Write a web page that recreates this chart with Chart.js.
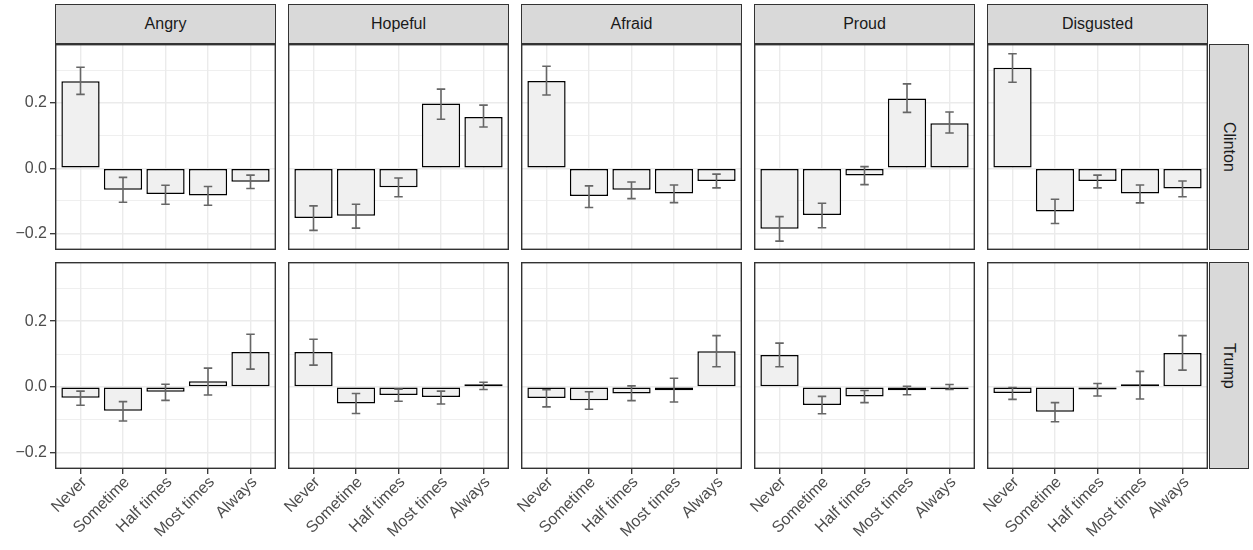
<!DOCTYPE html>
<html lang="en">
<head>
<meta charset="UTF-8">
<title>Emotions by candidate</title>
<script src="https://cdn.jsdelivr.net/npm/chart.js@4.4.1/dist/chart.umd.min.js"></script>
<style>
    body {
        margin: 0;
        background: #fff;
        font-family: 'Liberation Sans', Arial, sans-serif;
    }
    #wrap {
        position: relative;
        width: 1253px;
        height: 550px;
        overflow: hidden;
    }
    canvas {
        position: absolute;
    }
    .strip {
        position: absolute;
        box-sizing: border-box;
        background: #d9d9d9;
        border: 1.5px solid #333;
        color: #1a1a1a;
        font-size: 16px;
        display: flex;
        align-items: center;
        justify-content: center;
    }
    .strip.side {
        writing-mode: vertical-rl;
    }
</style>
</head>
<body>
<div id="wrap"></div>
<script>
    const categories = ['Never', 'Sometime', 'Half times', 'Most times', 'Always'];
    const emotions = ['Angry', 'Hopeful', 'Afraid', 'Proud', 'Disgusted'];
    const candidates = ['Clinton', 'Trump'];

    // one row per emotion, one value per category
    const clintonMean = [
        [0.266, -0.066, -0.079, -0.083, -0.041],
        [-0.152, -0.145, -0.058, 0.198, 0.157],
        [0.267, -0.085, -0.066, -0.077, -0.039],
        [-0.185, -0.143, -0.022, 0.213, 0.138],
        [0.307, -0.132, -0.039, -0.077, -0.062]
    ];
    const clintonLower = [
        [0.226, -0.104, -0.110, -0.113, -0.062],
        [-0.190, -0.183, -0.087, 0.150, 0.126],
        [0.224, -0.120, -0.093, -0.105, -0.060],
        [-0.223, -0.182, -0.050, 0.171, 0.108],
        [0.263, -0.169, -0.060, -0.106, -0.087]
    ];
    const clintonUpper = [
        [0.309, -0.028, -0.052, -0.056, -0.021],
        [-0.115, -0.110, -0.030, 0.242, 0.193],
        [0.312, -0.054, -0.042, -0.051, -0.018],
        [-0.148, -0.107, 0.005, 0.258, 0.172],
        [0.350, -0.095, -0.021, -0.051, -0.039]
    ];
    const trumpMean = [
        [-0.033, -0.073, -0.015, 0.017, 0.106],
        [0.106, -0.051, -0.025, -0.031, 0.003],
        [-0.034, -0.041, -0.020, -0.010, 0.108],
        [0.097, -0.055, -0.029, -0.010, -0.001],
        [-0.019, -0.076, -0.008, 0.003, 0.103]
    ];
    const trumpLower = [
        [-0.056, -0.104, -0.041, -0.025, 0.054],
        [0.066, -0.081, -0.044, -0.052, -0.008],
        [-0.061, -0.068, -0.042, -0.046, 0.061],
        [0.061, -0.082, -0.048, -0.024, -0.008],
        [-0.038, -0.106, -0.028, -0.037, 0.051]
    ];
    const trumpUpper = [
        [-0.013, -0.045, 0.008, 0.057, 0.160],
        [0.145, -0.020, -0.007, -0.013, 0.014],
        [-0.009, -0.015, 0.003, 0.026, 0.156],
        [0.133, -0.029, -0.011, 0.002, 0.007],
        [-0.002, -0.048, 0.010, 0.047, 0.156]
    ];

    const yMajor = [-0.2, 0.0, 0.2];
    const yMinor = [-0.1, 0.1, 0.3];
    const yTickLabels = ['\u22120.2', '0.0', '0.2'];

    Chart.defaults.font.family = "'Liberation Sans', Arial, sans-serif";

    const wrap = document.getElementById('wrap');
    const panelLeft = 55, panelW = 221, gap = 12;
    const rowTop = [44, 262], panelH = [206, 207];
    const yAxisW = 55, xAxisH = 81;

    const isMajor = v => yMajor.some(m => Math.abs(m - v) < 1e-9);

    // error bars and panel frame
    const panelExtras = {
        id: 'panelExtras',
        afterDatasetsDraw(chart) {
            const { ctx, scales: { x, y } } = chart;
            const ds = chart.data.datasets[0];
            ctx.save();
            ctx.strokeStyle = '#666';
            ctx.lineWidth = 1.6;
            ds.lower.forEach((lo, i) => {
                const px = x.getPixelForValue(i);
                const l = x.getPixelForValue(i - 0.1), r = x.getPixelForValue(i + 0.1);
                const y1 = y.getPixelForValue(lo), y2 = y.getPixelForValue(ds.upper[i]);
                ctx.beginPath();
                ctx.moveTo(px, y1); ctx.lineTo(px, y2);
                ctx.moveTo(l, y1); ctx.lineTo(r, y1);
                ctx.moveTo(l, y2); ctx.lineTo(r, y2);
                ctx.stroke();
            });
            ctx.restore();
        },
        afterDraw(chart) {
            const { ctx, chartArea: a } = chart;
            ctx.save();
            ctx.strokeStyle = '#333';
            ctx.lineWidth = 1.4;
            ctx.strokeRect(a.left + 0.7, a.top + 0.7, a.right - a.left - 1.4, a.bottom - a.top - 1.4);
            ctx.restore();
        }
    };

    function makePanel(row, col, mean, lower, upper) {
        const isLeft = col === 0, isBottom = row === 1;
        const leftW = isLeft ? yAxisW : gap;
        const bottomH = isBottom ? xAxisH : 0;
        const w = leftW + panelW, h = panelH[row] + bottomH;
        const cv = document.createElement('canvas');
        cv.width = w; cv.height = h;
        cv.style.width = w + 'px';
        cv.style.height = h + 'px';
        cv.style.left = (panelLeft + col * (panelW + gap) - leftW) + 'px';
        cv.style.top = rowTop[row] + 'px';
        wrap.appendChild(cv);

        new Chart(cv, {
            type: 'bar',
            data: {
                datasets: [{
                    data: mean.map((v, i) => ({ x: i, y: v })),
                    lower: lower,
                    upper: upper,
                    backgroundColor: '#f0f0f0',
                    borderColor: '#000',
                    borderWidth: 1.5,
                    borderSkipped: false,
                    minBarLength: 2.5,
                    barPercentage: 0.9,
                    categoryPercentage: 1
                }]
            },
            options: {
                responsive: false,
                animation: false,
                events: [],
                layout: { padding: 0 },
                plugins: { legend: { display: false }, tooltip: { enabled: false } },
                scales: {
                    x: {
                        type: 'linear',
                        min: -0.6,
                        max: 4.6,
                        offset: false,
                        afterBuildTicks: s => { s.ticks = categories.map((c, i) => ({ value: i })); },
                        afterFit: s => { s.height = bottomH; s.paddingLeft = 0; s.paddingRight = 0; },
                        ticks: {
                            display: isBottom,
                            autoSkip: false,
                            minRotation: 45,
                            maxRotation: 45,
                            padding: -1,
                            labelOffset: 4,
                            color: '#4d4d4d',
                            font: { size: 16 },
                            callback: v => categories[v]
                        },
                        grid: {
                            offset: false,
                            color: '#ebebeb',
                            lineWidth: 1.4,
                            drawTicks: isBottom,
                            tickLength: 5,
                            tickColor: '#333',
                            tickWidth: 1.3
                        },
                        border: { display: false }
                    },
                    y: {
                        min: -0.25,
                        max: 0.38,
                        afterBuildTicks: s => {
                            s.ticks = yMajor.concat(yMinor).sort((a, b) => a - b).map(v => ({ value: v }));
                        },
                        afterFit: s => { s.width = leftW; s.paddingTop = 0; s.paddingBottom = 0; },
                        ticks: {
                            display: isLeft,
                            autoSkip: false,
                            padding: 3,
                            color: '#4d4d4d',
                            font: { size: 16 },
                            callback: v => {
                                const k = yMajor.findIndex(m => Math.abs(m - v) < 1e-9);
                                return k >= 0 ? yTickLabels[k] : '';
                            }
                        },
                        grid: {
                            color: '#ebebeb',
                            lineWidth: c => isMajor(c.tick.value) ? 1.4 : 0.8,
                            drawTicks: isLeft,
                            tickLength: 5,
                            tickColor: c => isMajor(c.tick.value) ? '#333' : 'rgba(0,0,0,0)',
                            tickWidth: 1.3
                        },
                        border: { display: false }
                    }
                }
            },
            plugins: [panelExtras]
        });
    }

    emotions.forEach((emo, col) => {
        const strip = document.createElement('div');
        strip.className = 'strip';
        strip.textContent = emo;
        strip.style.left = (panelLeft + col * (panelW + gap)) + 'px';
        strip.style.top = '4px';
        strip.style.width = panelW + 'px';
        strip.style.height = '40px';
        wrap.appendChild(strip);

        makePanel(0, col, clintonMean[col], clintonLower[col], clintonUpper[col]);
        makePanel(1, col, trumpMean[col], trumpLower[col], trumpUpper[col]);
    });

    candidates.forEach((name, row) => {
        const strip = document.createElement('div');
        strip.className = 'strip side';
        strip.textContent = name;
        strip.style.left = (panelLeft + 5 * (panelW + gap) - gap + 1) + 'px';
        strip.style.top = rowTop[row] + 'px';
        strip.style.width = '40px';
        strip.style.height = panelH[row] + 'px';
        wrap.appendChild(strip);
    });
</script>
</body>
</html>
